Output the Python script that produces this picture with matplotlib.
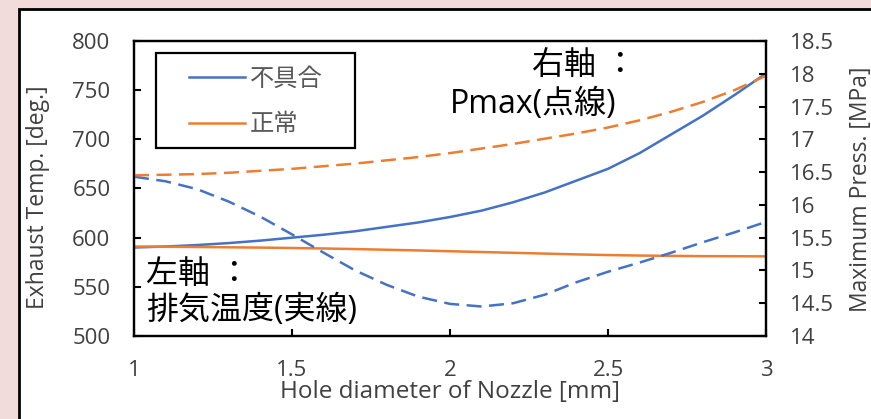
import matplotlib
matplotlib.use("Agg")
import matplotlib.pyplot as plt
from matplotlib.patches import Rectangle

plt.rcParams['font.family'] = ['Open Sans', 'Noto Sans CJK JP', 'DejaVu Sans']

# hole diameter [mm]
x_dia = [1.0, 1.1, 1.2, 1.3, 1.4, 1.5, 1.6, 1.7, 1.8, 1.9, 2.0,
         2.1, 2.2, 2.3, 2.4, 2.5, 2.6, 2.7, 2.8, 2.9, 3.0]
# exhaust temperature [deg.] (solid lines, left axis)
temp_ng = [590, 591, 592.5, 594.5, 597, 600, 603, 606.5, 611, 615.5, 621,
           627.5, 636, 646, 658, 670, 686, 705, 724, 745, 767]
temp_ok = [591, 590.8, 590.5, 590.2, 589.9, 589.5, 589, 588.4, 587.7, 587, 586.2,
           585.4, 584.6, 583.8, 583, 582.3, 581.8, 581.5, 581.2, 581.1, 581]
# maximum pressure [MPa] (dashed lines, right axis)
pmax_ng = [16.43, 16.36, 16.24, 16.05, 15.82, 15.55, 15.27, 15.00, 14.78, 14.60, 14.49,
           14.45, 14.50, 14.63, 14.82, 14.98, 15.12, 15.27, 15.43, 15.58, 15.74]
pmax_ok = [16.45, 16.46, 16.47, 16.49, 16.52, 16.55, 16.59, 16.63, 16.68, 16.73, 16.79,
           16.86, 16.93, 17.01, 17.09, 17.18, 17.29, 17.42, 17.57, 17.75, 17.97]

labels = ['不具合', '正常']
blue = '#4472C4'
orange = '#ED7D31'
txt = '#404040'

W, H = 871, 419
fig = plt.figure(figsize=(W / 100, H / 100), dpi=100)
fig.patch.set_facecolor('#F2DCDB')

# white panel with black frame
fig.patches.append(Rectangle((19 / W, -0.1), 1.0, 1 - 9 / H + 0.1,
                             transform=fig.transFigure, facecolor='white',
                             edgecolor='black', linewidth=2, zorder=-10))

ax = fig.add_axes([134 / W, 1 - 336 / H, (766 - 134) / W, (336 - 41) / H])
ax2 = ax.twinx()

dash = (0, (6, 3))
l1, = ax.plot(x_dia, temp_ng, color=blue, lw=1.8, label=labels[0])
l2, = ax.plot(x_dia, temp_ok, color=orange, lw=1.8, label=labels[1])
ax2.plot(x_dia, pmax_ng, color=blue, lw=1.8, ls=dash)
ax2.plot(x_dia, pmax_ok, color=orange, lw=1.8, ls=dash)

ax.set_xlim(1, 3)
ax.set_ylim(500, 800)
ax2.set_ylim(14, 18.5)
ax.set_xticks([1, 1.5, 2, 2.5, 3])
ax.set_xticklabels(['1', '1.5', '2', '2.5', '3'])
ax.set_yticks(range(500, 801, 50))
ax2.set_yticks([14, 14.5, 15, 15.5, 16, 16.5, 17, 17.5, 18, 18.5])
ax2.set_yticklabels(['14', '14.5', '15', '15.5', '16', '16.5', '17', '17.5', '18', '18.5'])

for a in (ax, ax2):
    for s in a.spines.values():
        s.set_linewidth(1.6)
        s.set_color('black')
    a.tick_params(direction='in', length=5, width=1.5, labelsize=16,
                  labelcolor=txt, pad=17)
ax.set_facecolor('none')

fig.text(38 / W, 1 - 197 / H, 'Exhaust Temp. [deg.]', rotation=90,
         ha='center', va='center', fontsize=16.5, color=txt)
fig.text(861 / W, 1 - 189 / H, 'Maximum Press. [MPa]', rotation=90,
         ha='center', va='center', fontsize=16.5, color=txt)
fig.text(450 / W, 1 - 398 / H, 'Hole diameter of Nozzle [mm]',
         ha='center', va='baseline', fontsize=17.5, color=txt)

# legend box drawn separately so the padding can differ from the text spacing
ax2.add_patch(Rectangle((156 / W, 1 - 148 / H), (355 - 156) / W, (148 - 53) / H,
                        transform=fig.transFigure, facecolor='white',
                        edgecolor='black', linewidth=1.6, zorder=4))
leg = ax2.legend(handles=[l1, l2], loc='upper left',
                 bbox_to_anchor=(189 / W, 1 - 68 / H), bbox_transform=fig.transFigure,
                 frameon=False, fontsize=17.5,
                 handlelength=2.3, handletextpad=0.2, labelspacing=0.88,
                 borderpad=0, borderaxespad=0)
leg.set_zorder(5)
for t in leg.get_texts():
    t.set_color('#595959')

fig.text(636 / W, 1 - 66 / H, '右軸 ：', ha='right', va='center', fontsize=23)
fig.text(533 / W, 1 - 104 / H, 'Pmax(点線)', ha='center', va='center', fontsize=23)
fig.text(146 / W, 1 - 274 / H, '左軸 ：', ha='left', va='center', fontsize=23)
fig.text(146 / W, 1 - 311 / H, '排気温度(実線)', ha='left', va='center', fontsize=23)

fig.savefig('out.png', dpi=100, facecolor=fig.get_facecolor())
